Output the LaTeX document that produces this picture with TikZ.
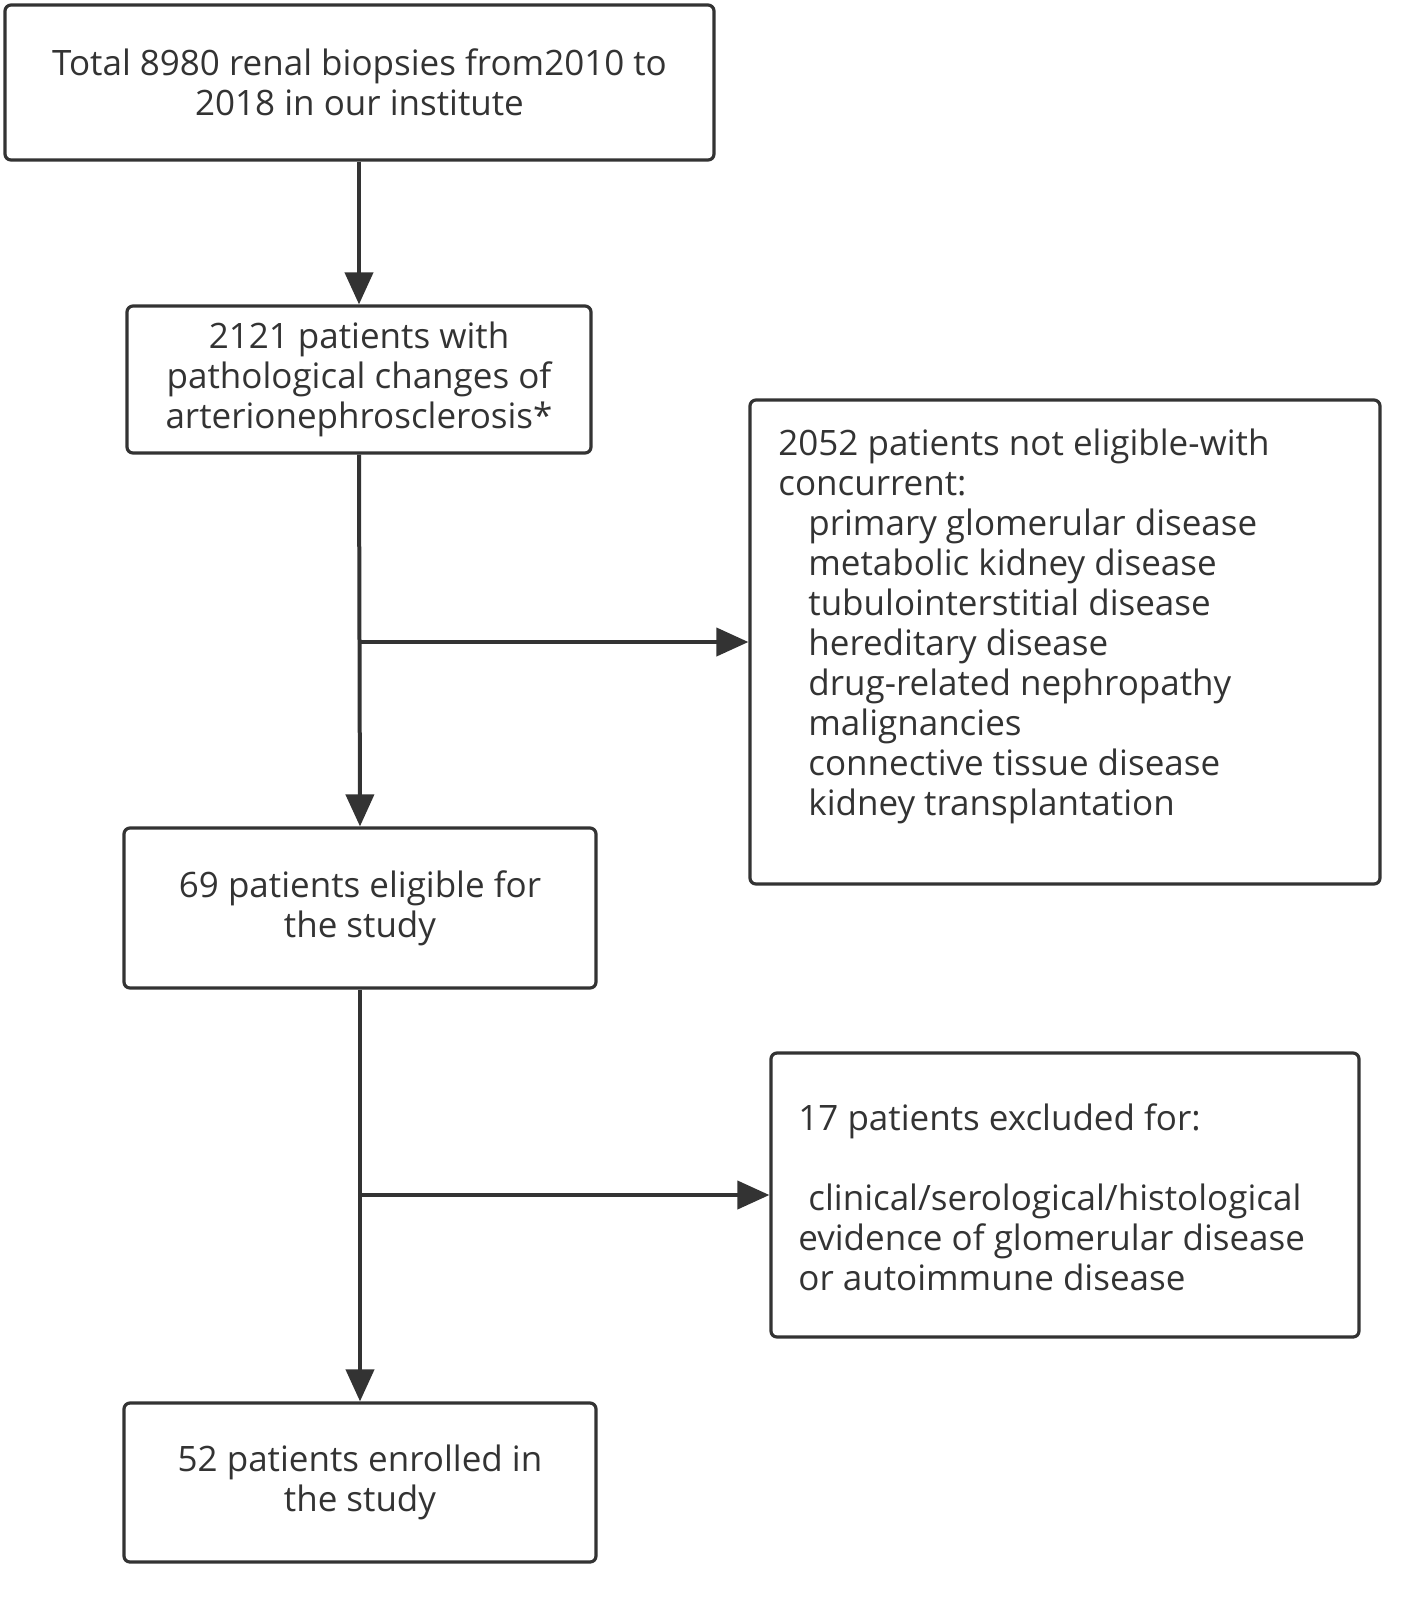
\documentclass[tikz,border=0pt]{standalone}
\usepackage{fontspec}
\setmainfont{Open Sans}
\usetikzlibrary{arrows.meta}
\definecolor{ink}{HTML}{333333}
\begin{document}
\begin{tikzpicture}[x=0.5pt,y=-0.5pt,
  box/.style={draw=ink, line width=1.6pt, rounded corners=3pt, inner sep=0pt},
  txt/.style={text=ink, font=\fontsize{17.5}{20}\selectfont, align=center, inner sep=0pt},
  ltxt/.style={text=ink, font=\fontsize{17.5}{20}\selectfont, align=left, inner sep=0pt},
  flow/.style={draw=ink, line width=2pt, -{Triangle[length=16pt,width=14pt]}}]
\useasboundingbox (0,0) rectangle (1427,1614);
\node[box, minimum width=354.5pt, minimum height=77.5pt] (b1) at (359.5,82.5) {};
\node[txt] (t1) at (b1) {Total 8980 renal biopsies from2010 to\\2018 in our institute};
\node[box, minimum width=232pt, minimum height=73.5pt] (b2) at (359,379.5) {};
\node[txt] (t2) at (b2) {2121 patients with\\pathological changes of\\arterionephrosclerosis*};
\node[box, minimum width=315pt, minimum height=242pt] (b3) at (1065,642) {};
\node[ltxt, anchor=north west] (t3) at (778,428) {2052 patients not eligible-with\\concurrent:\\
\hspace*{15pt}primary glomerular disease\\
\hspace*{15pt}metabolic kidney disease\\
\hspace*{15pt}tubulointerstitial disease\\
\hspace*{15pt}hereditary disease\\
\hspace*{15pt}drug-related nephropathy\\
\hspace*{15pt}malignancies\\
\hspace*{15pt}connective tissue disease\\
\hspace*{15pt}kidney transplantation};
\node[box, minimum width=236pt, minimum height=80pt] (b4) at (360,908) {};
\node[txt] (t4) at (b4) {69 patients eligible for\\the study};
\node[box, minimum width=294pt, minimum height=142pt] (b5) at (1065,1195) {};
\node[ltxt, anchor=north west] (t5) at (798,1103) {17 patients excluded for:\\[20pt]
\hspace*{5pt}clinical/serological/histological\\
evidence of glomerular disease\\
or autoimmune disease};
\node[box, minimum width=236pt, minimum height=79.5pt] (b6) at (360,1482.5) {};
\node[txt] (t6) at (b6) {52 patients enrolled in\\the study};
\coordinate (j1) at (360,642);
\coordinate (j2) at (360,1195);
\draw[flow] (b1.south -| b2) -- (b2.north);
\draw[flow] (b2.south) -- (b4.north);
\draw[flow] (j1) -- (b3.west);
\draw[flow] (b4.south) -- (b6.north);
\draw[flow] (j2) -- (b5.west);
\end{tikzpicture}
\end{document}
